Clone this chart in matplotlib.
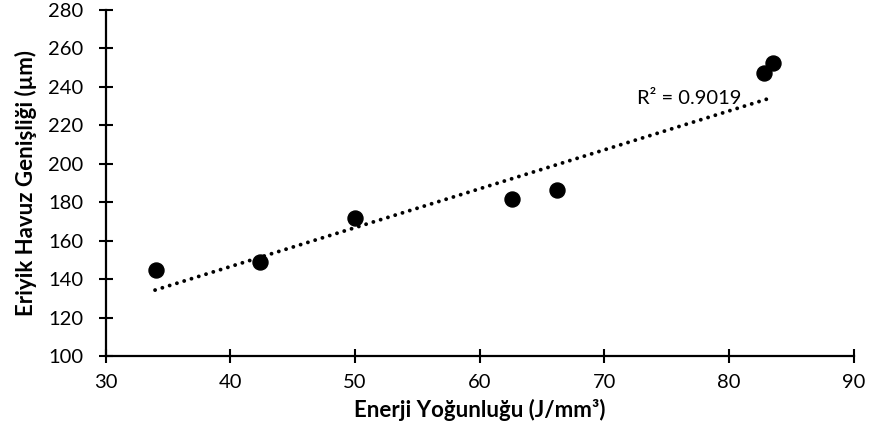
import matplotlib
matplotlib.use("Agg")
import matplotlib.pyplot as plt
import numpy as np

plt.rcParams['font.family'] = ['Lato', 'DejaVu Sans']

energy = [34.0, 42.4, 50.0, 62.6, 66.2, 82.8, 83.5]
width = [144.7, 149.1, 172.0, 181.5, 186.4, 247.1, 252.3]
# linear trendline as drawn in the picture (start and end)
trend_x = [33.96, 83.07]
trend_y = [134.3, 233.7]
r2_text = "R² = 0.9019"
xticks = [30, 40, 50, 60, 70, 80, 90]
yticks = [100, 120, 140, 160, 180, 200, 220, 240, 260, 280]

fig = plt.figure(figsize=(8.7, 4.38), dpi=100)
ax = fig.add_axes([0.1215, 0.1872, 0.8597, 0.79])

ax.plot(trend_x, trend_y, color='black', lw=2.8,
        linestyle=(0, (0.01, 1.95)), dash_capstyle='round', zorder=2)
ax.plot(energy, width, 'o', color='black', markersize=10.8, zorder=3)

ax.text(72.6, 234.2, r2_text, fontsize=14.5, va='center', ha='left')

ax.set_xlim(30, 90)
ax.set_ylim(100, 280)
ax.set_xticks(xticks)
ax.set_yticks(yticks)
for s in ['top', 'right']:
    ax.spines[s].set_visible(False)
for s in ['left', 'bottom']:
    ax.spines[s].set_linewidth(1.6)
ax.tick_params(direction='inout', length=10, width=1.5, labelsize=14.5)
ax.tick_params(axis='y', pad=11)
ax.tick_params(axis='x', pad=8)
ax.set_xlabel('Enerji Yoğunluğu (J/mm³)', fontsize=16, fontweight='bold', labelpad=6)
ax.set_ylabel('Eriyik Havuz Genişliği (µm)', fontsize=16, fontweight='bold', labelpad=8)

fig.savefig('out.png', dpi=100)
